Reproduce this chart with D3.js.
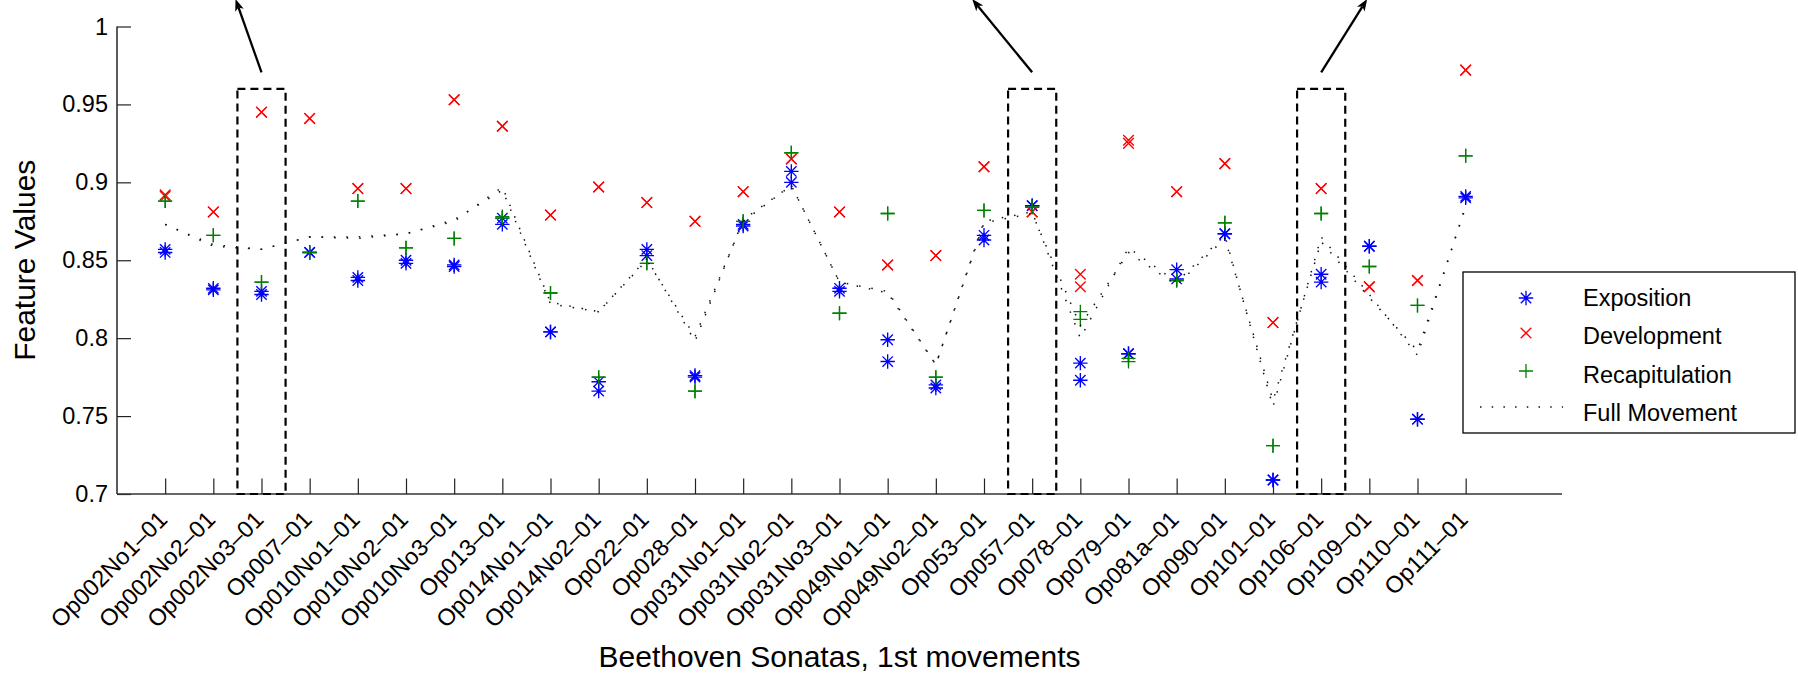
<!DOCTYPE html>
<html>
<head>
<meta charset="utf-8">
<script src="https://cdn.jsdelivr.net/npm/d3@7"></script>
<style>
  body { margin: 0; background: #fff; }
  svg { display: block; }
  text { font-family: "Liberation Sans", Arial, Helvetica, sans-serif; fill: #000; }
</style>
</head>
<body>
<svg id="chart" width="1798" height="676"></svg>
<script>
// First movements of the Beethoven piano sonatas
const sonatas = ["Op002No1", "Op002No2", "Op002No3", "Op007", "Op010No1", "Op010No2", "Op010No3",
  "Op013", "Op014No1", "Op014No2", "Op022", "Op028", "Op031No1", "Op031No2", "Op031No3",
  "Op049No1", "Op049No2", "Op053", "Op057", "Op078", "Op079", "Op081a", "Op090", "Op101",
  "Op106", "Op109", "Op110", "Op111"];
const tickLabels = sonatas.map(s => s + "\u201301");

// Two measurements per movement for every section
const expositionA = [0.857, 0.832, 0.830, 0.855, 0.839, 0.850, 0.847, 0.877, 0.804, 0.772, 0.857, 0.776, 0.873, 0.907,
  0.832, 0.799, 0.770, 0.866, 0.885, 0.784, 0.790, 0.844, 0.867, 0.709, 0.841, 0.859, 0.748, 0.891];
const expositionB = [0.855, 0.831, 0.828, 0.855, 0.837, 0.848, 0.846, 0.873, 0.804, 0.766, 0.853, 0.775, 0.872, 0.900,
  0.830, 0.785, 0.768, 0.863, 0.885, 0.773, 0.790, 0.838, 0.867, 0.709, 0.836, 0.859, 0.748, 0.890];
const developmentA = [0.892, 0.881, 0.945, 0.941, 0.896, 0.896, 0.953, 0.936, 0.879, 0.897, 0.887, 0.875, 0.894, 0.915,
  0.881, 0.847, 0.853, 0.910, 0.881, 0.841, 0.927, 0.894, 0.912, 0.810, 0.896, 0.833, 0.837, 0.972];
const developmentB = [0.891, 0.881, 0.945, 0.941, 0.896, 0.896, 0.953, 0.936, 0.879, 0.897, 0.887, 0.875, 0.894, 0.915,
  0.881, 0.847, 0.853, 0.910, 0.881, 0.833, 0.925, 0.894, 0.912, 0.810, 0.896, 0.833, 0.837, 0.972];
const recapitulationA = [0.888, 0.866, 0.836, 0.855, 0.888, 0.858, 0.864, 0.878, 0.829, 0.775, 0.848, 0.766, 0.875, 0.919,
  0.816, 0.880, 0.775, 0.882, 0.884, 0.817, 0.787, 0.837, 0.874, 0.731, 0.880, 0.846, 0.821, 0.917];
const recapitulationB = [0.888, 0.866, 0.836, 0.855, 0.888, 0.858, 0.864, 0.877, 0.829, 0.775, 0.848, 0.766, 0.875, 0.919,
  0.816, 0.880, 0.775, 0.882, 0.884, 0.812, 0.785, 0.837, 0.874, 0.731, 0.880, 0.846, 0.821, 0.917];
const fullMovementA = [0.873, 0.860, 0.857, 0.865, 0.864, 0.867, 0.875, 0.897, 0.823, 0.817, 0.851, 0.798, 0.876, 0.898,
  0.836, 0.829, 0.783, 0.875, 0.881, 0.800, 0.858, 0.836, 0.866, 0.756, 0.865, 0.828, 0.789, 0.885];
const fullMovementB = [0.873, 0.859, 0.857, 0.865, 0.865, 0.867, 0.876, 0.895, 0.822, 0.817, 0.850, 0.801, 0.875, 0.898,
  0.836, 0.830, 0.783, 0.874, 0.880, 0.808, 0.855, 0.834, 0.864, 0.760, 0.862, 0.826, 0.792, 0.884];

const yTicks = [0.7, 0.75, 0.8, 0.85, 0.9, 0.95, 1];
const highlighted = ["Op002No3", "Op057", "Op106"];
const highlightTop = 0.96;

const legendEntries = ["Exposition", "Development", "Recapitulation", "Full Movement"];

// ---- drawing ----
const svg = d3.select("#chart");
const FONT_TICK = 23.5, FONT_LABEL = 30;
const x = d3.scaleLinear().domain([0, 30]).range([117, 1562]);
const y = d3.scaleLinear().domain([0.7, 1]).range([494, 26.5]);
const xi = i => x(i + 1);

const plus = s => `M${-s},0H${s}M0,${-s}V${s}`;
const cross = s => `M${-s},${-s}L${s},${s}M${-s},${s}L${s},${-s}`;
const star = s => plus(s) + cross(s * 0.72);

const styles = {
  exposition: { color: "#0000ff", path: star(7.2), w: 1.35 },
  development: { color: "#ff0000", path: cross(5.3), w: 1.3 },
  recapitulation: { color: "#008000", path: plus(7), w: 1.3 }
};

// axes
const axisColor = "#333";
const yAxis = svg.append("g").attr("transform", `translate(${x(0)},0)`)
  .call(d3.axisLeft(y).tickValues(yTicks).tickSize(-14).tickPadding(9)
    .tickFormat(d => String(+d.toFixed(2))));
const xAxis = svg.append("g").attr("transform", `translate(0,${y(0.7)})`)
  .call(d3.axisBottom(x).tickValues(d3.range(1, sonatas.length + 1)).tickSize(-15.5)
    .tickFormat(d => tickLabels[d - 1]));
[yAxis, xAxis].forEach(g => {
  g.select(".domain").attr("stroke", axisColor).attr("stroke-width", 1.6);
  g.selectAll(".tick line").attr("stroke", "#222").attr("stroke-width", 1.2);
  g.selectAll("text").attr("font-size", FONT_TICK)
    .attr("font-family", "'Liberation Sans', Arial, sans-serif").attr("fill", "#000");
});
xAxis.select(".domain").attr("d", `M${x(0)},0H${x(30)}`);
yAxis.select(".domain").attr("d", `M0,${y(1)}V${y(0.7)}`);
xAxis.selectAll(".tick text")
  .attr("y", 0).attr("dy", null).attr("x", 0)
  .attr("text-anchor", "end")
  .attr("transform", "translate(3,27) rotate(-45)");

// axis titles
svg.append("text").attr("x", (x(0) + x(30)) / 2).attr("y", 667)
  .attr("text-anchor", "middle").attr("font-size", FONT_LABEL)
  .text("Beethoven Sonatas, 1st movements");
svg.append("text").attr("transform", `translate(35,${(y(0.7) + y(1)) / 2}) rotate(-90)`)
  .attr("text-anchor", "middle").attr("font-size", FONT_LABEL)
  .text("Feature Values");

// markers
function drawMarkers(values, st) {
  svg.append("g").selectAll("path").data(values).join("path")
    .attr("transform", (v, i) => `translate(${xi(i)},${y(v)})`)
    .attr("d", st.path).attr("fill", "none")
    .attr("stroke", st.color).attr("stroke-width", st.w);
}
drawMarkers(expositionA, styles.exposition);
drawMarkers(expositionB, styles.exposition);
drawMarkers(developmentA, styles.development);
drawMarkers(developmentB, styles.development);
drawMarkers(recapitulationA, styles.recapitulation);
drawMarkers(recapitulationB, styles.recapitulation);

// full-movement dotted lines
const line = d3.line().x((v, i) => xi(i)).y(v => y(v));
[fullMovementA, fullMovementB].forEach(vals => {
  svg.append("path").attr("d", line(vals)).attr("fill", "none")
    .attr("stroke", "#111").attr("stroke-width", 1.5)
    .attr("stroke-dasharray", "1.5,11");
});

// dashed highlight boxes with arrows
const arrowDx = [-26, -60, 46];
highlighted.forEach((name, k) => {
  const i = sonatas.indexOf(name);
  const cx = xi(i);
  const x0 = x(i + 0.5), x1 = x(i + 1.5);
  svg.append("rect").attr("x", x0).attr("y", y(highlightTop))
    .attr("width", x1 - x0).attr("height", y(0.7) - y(highlightTop))
    .attr("fill", "none").attr("stroke", "#000").attr("stroke-width", 2.2)
    .attr("stroke-dasharray", "8,5");
  const sx = cx, sy = y(highlightTop) - 16.5;
  const ex = cx + arrowDx[k], ey = -1;
  const ang = Math.atan2(ey - sy, ex - sx);
  const hl = 12, hw = 4.5;
  const bx = ex - hl * Math.cos(ang), by = ey - hl * Math.sin(ang);
  svg.append("line").attr("x1", sx).attr("y1", sy).attr("x2", bx + 3 * Math.cos(ang)).attr("y2", by + 3 * Math.sin(ang))
    .attr("stroke", "#000").attr("stroke-width", 2.3);
  const nx = -Math.sin(ang), ny = Math.cos(ang);
  const nb = 3;
  svg.append("path")
    .attr("d", `M${ex},${ey}L${bx + hw * nx},${by + hw * ny}L${ex - (hl - nb) * Math.cos(ang)},${ey - (hl - nb) * Math.sin(ang)}L${bx - hw * nx},${by - hw * ny}Z`)
    .attr("fill", "#000");
});

// legend
const lg = svg.append("g");
lg.append("rect").attr("x", 1463).attr("y", 272).attr("width", 332).attr("height", 161)
  .attr("fill", "#fff").attr("stroke", "#000").attr("stroke-width", 1.3);
const legendStyles = [styles.exposition, styles.development, styles.recapitulation, null];
const markerRows = [298, 333, 371, 407];
const textRows = [305.5, 343.5, 382.5, 421];
legendEntries.forEach((name, k) => {
  const ry = markerRows[k];
  const st = legendStyles[k];
  if (st) {
    lg.append("path").attr("transform", `translate(1526,${ry})`).attr("d", st.path)
      .attr("fill", "none").attr("stroke", st.color).attr("stroke-width", st.w);
  } else {
    lg.append("path").attr("d", `M1480,${ry}H1563`).attr("stroke", "#111")
      .attr("stroke-width", 1.5).attr("stroke-dasharray", "1.5,10.2");
  }
  lg.append("text").attr("x", 1583).attr("y", textRows[k]).attr("font-size", FONT_TICK).text(name);
});
</script>
</body>
</html>
